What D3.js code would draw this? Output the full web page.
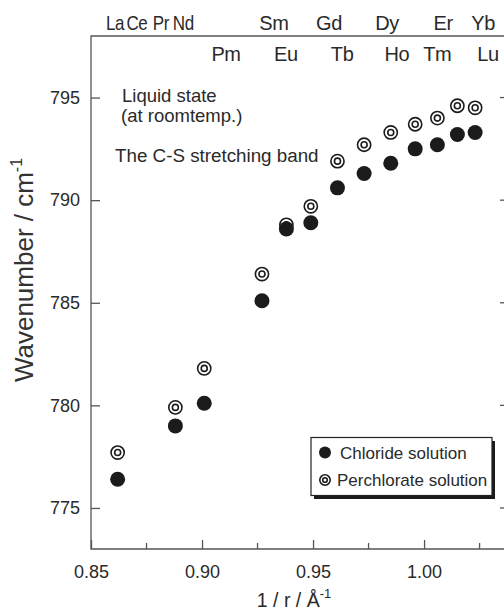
<!DOCTYPE html>
<html>
<head>
<meta charset="utf-8">
<script src="https://cdn.jsdelivr.net/npm/d3@7"></script>
<style>
  body { margin: 0; background: #fff; }
  svg { display: block; }
  text { font-family: "Liberation Sans", Arial, sans-serif; fill: #2a2a2a; }
</style>
</head>
<body>
<div id="grafico"></div>
<script>
// 1/r de cada ion (Å^-1)
const inversoR = [0.862, 0.888, 0.901, 0.927, 0.938, 0.949, 0.961, 0.973, 0.985, 0.996, 1.006, 1.015, 1.023]
// numero de onda, banda C-S
const cloruro = [776.4, 779.0, 780.1, 785.1, 788.6, 788.9, 790.6, 791.3, 791.8, 792.5, 792.7, 793.2, 793.3]
const perclorato = [777.7, 779.9, 781.8, 786.4, 788.8, 789.7, 791.9, 792.7, 793.3, 793.7, 794.0, 794.6, 794.5]

// etiquetas de los lantanidos (fila de arriba y fila de abajo)
const filaArriba = ['La', 'Ce', 'Pr', 'Nd', 'Sm', 'Gd', 'Dy', 'Er', 'Yb']
const filaArribaX = [0.8608, 0.8707, 0.8815, 0.8916, 0.9324, 0.9572, 0.9833, 1.0086, 1.0266]
const filaAbajo = ['Pm', 'Eu', 'Tb', 'Ho', 'Tm', 'Lu']
const filaAbajoX = [0.9108, 0.9378, 0.9631, 0.9878, 1.0059, 1.0288]

const ticksX = [0.85, 0.90, 0.95, 1.00]
const ticksXMenores = [0.875, 0.925, 0.975, 1.025]
const ticksY = [775, 780, 785, 790, 795]

const ancho = 504, alto = 611
const margin = {top: 36, left: 91, bottom: 62}

const svg = d3.select('#grafico').append('svg')
  .attr('width', ancho)
  .attr('height', alto)

const x = d3.scaleLinear().domain([0.85, 1.0378]).range([margin.left, 508])
const y = d3.scaleLinear().domain([773, 798]).range([alto - margin.bottom, margin.top])

const colorEje = '#555'
const fuente = '"Liberation Sans", Arial, sans-serif'

// marco: izquierda, arriba, derecha
svg.append('path')
  .attr('d', `M${x(1.0378)},${y(798)}H${x(0.85)}V${y(773)}H${x(1.0378)}V${y(798)}`)
  .attr('fill', 'none')
  .attr('stroke', colorEje)
  .attr('stroke-width', 1.3)

// eje y (ticks hacia dentro)
const ejeY = svg.append('g')
  .attr('transform', `translate(${margin.left},0)`)
  .call(d3.axisLeft(y).tickValues(ticksY).tickSize(-9).tickPadding(11).tickFormat(d3.format('d')))
ejeY.select('.domain').remove()
ejeY.selectAll('line').attr('stroke', colorEje).attr('stroke-width', 1.3)
ejeY.selectAll('text').attr('font-size', 18).attr('fill', '#2a2a2a').style('font-family', fuente)

// ticks del lado derecho
svg.append('g').selectAll('line')
  .data(ticksY)
  .enter()
  .append('line')
  .attr('x1', x(1.0378) - 8).attr('x2', x(1.0378))
  .attr('y1', d => y(d)).attr('y2', d => y(d))
  .attr('stroke', colorEje).attr('stroke-width', 1.3)

// eje x
const ejeX = svg.append('g')
  .attr('transform', `translate(0,${y(773)})`)
  .call(d3.axisBottom(x).tickValues(ticksX).tickSize(-9).tickPadding(16).tickFormat(d3.format('.2f')))
ejeX.select('.domain').remove()
ejeX.selectAll('line').attr('stroke', colorEje).attr('stroke-width', 1.3)
ejeX.selectAll('text').attr('font-size', 18).attr('fill', '#2a2a2a').style('font-family', fuente)

svg.append('g').selectAll('line')
  .data(ticksXMenores)
  .enter()
  .append('line')
  .attr('x1', d => x(d)).attr('x2', d => x(d))
  .attr('y1', y(773)).attr('y2', y(773) - 6)
  .attr('stroke', colorEje).attr('stroke-width', 1.3)

// titulos de los ejes
const tituloX = svg.append('text')
  .attr('x', 294).attr('y', 607)
  .attr('text-anchor', 'middle')
  .attr('font-size', 19.5)
tituloX.append('tspan').text('1 / r / Å')
tituloX.append('tspan').text('-1').attr('font-size', 13).attr('dy', -9)

const tituloY = svg.append('text')
  .attr('transform', 'translate(33,270) rotate(-90)')
  .attr('text-anchor', 'middle')
  .attr('font-size', 26)
  .style('fill', '#333')
tituloY.append('tspan').text('Wavenumber / cm')
tituloY.append('tspan').text('-1').attr('font-size', 16).attr('dy', -11)

// nombres de los lantanidos (los cuatro primeros van mas estrechos)
svg.append('g').selectAll('text')
  .data(filaArriba)
  .enter()
  .append('text')
  .attr('transform', (d, i) => `translate(${x(filaArribaX[i])},30) scale(${i < 4 ? 0.85 : 1},1)`)
  .attr('text-anchor', 'middle')
  .attr('font-size', 20)
  .attr('letter-spacing', -0.4)
  .text(d => d)

svg.append('g').selectAll('text')
  .data(filaAbajo)
  .enter()
  .append('text')
  .attr('x', (d, i) => x(filaAbajoX[i]))
  .attr('y', 61)
  .attr('text-anchor', 'middle')
  .attr('font-size', 20)
  .attr('letter-spacing', -0.4)
  .text(d => d)

// anotaciones
svg.append('text').attr('x', 122).attr('y', 102).attr('font-size', 18.5).text('Liquid state')
svg.append('text').attr('x', 121).attr('y', 122).attr('font-size', 18.5).text('(at roomtemp.)')
svg.append('text').attr('x', 115).attr('y', 162).attr('font-size', 18.8).text('The C-S stretching band')

// simbolo de doble circulo
function dobleCirculo(g, cx, cy, r1, r2) {
  g.append('circle').attr('cx', cx).attr('cy', cy).attr('r', r1)
    .attr('fill', '#fff').attr('stroke', '#1b1b1b').attr('stroke-width', 1.6)
  g.append('circle').attr('cx', cx).attr('cy', cy).attr('r', r2)
    .attr('fill', 'none').attr('stroke', '#1b1b1b').attr('stroke-width', 1.6)
}

// puntos perclorato
const gPer = svg.append('g')
perclorato.forEach((v, i) => {
  dobleCirculo(gPer, x(inversoR[i]), y(v), 6.6, 3)
})

// puntos cloruro
svg.append('g').selectAll('circle')
  .data(cloruro)
  .enter()
  .append('circle')
  .attr('cx', (d, i) => x(inversoR[i]))
  .attr('cy', d => y(d))
  .attr('r', 7.5)
  .attr('fill', '#1b1b1b')

// leyenda
const leyenda = svg.append('g')
leyenda.append('rect')
  .attr('x', 314).attr('y', 441).attr('width', 181).attr('height', 58)
  .attr('fill', '#1b1b1b')
leyenda.append('rect')
  .attr('x', 311).attr('y', 437.5).attr('width', 181).attr('height', 58)
  .attr('fill', '#fff').attr('stroke', '#222').attr('stroke-width', 1.2)
leyenda.append('circle').attr('cx', 325).attr('cy', 452.5).attr('r', 6).attr('fill', '#1b1b1b')
dobleCirculo(leyenda, 325, 480, 5.2, 2.3)
leyenda.append('text').attr('x', 340).attr('y', 458.5).attr('font-size', 17).text('Chloride solution')
leyenda.append('text').attr('x', 337).attr('y', 485.5).attr('font-size', 17).text('Perchlorate solution')
</script>
</body>
</html>
